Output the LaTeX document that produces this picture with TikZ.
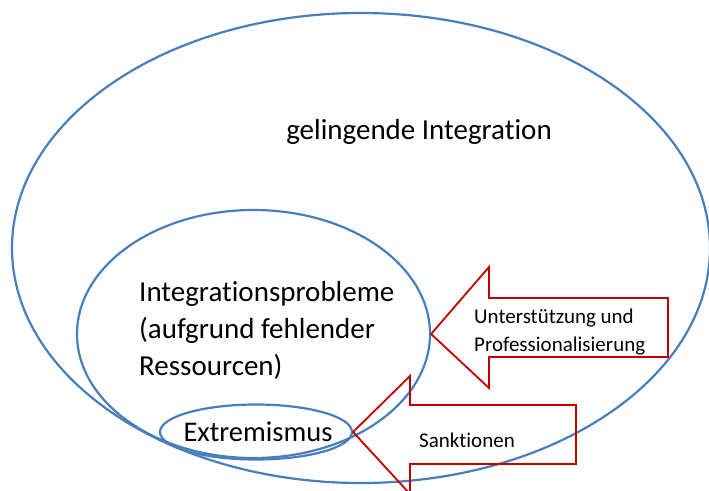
\documentclass[tikz,border=0pt]{standalone}
\usepackage{fontspec}
\setmainfont{Carlito}[Ligatures=NoCommon]
\usetikzlibrary{shapes.geometric}
\definecolor{setblue}{HTML}{4A7EBB}
\definecolor{arrowred}{HTML}{C00000}
\tikzset{
  setline/.style={draw=setblue, line width=2.2pt},
  setshape/.style={setline, ellipse, inner sep=0pt},
  bigarrow/.style={draw=arrowred, line width=1.8pt, line join=miter},
  biglabel/.style={font=\fontsize{29}{37}\selectfont, align=left, inner sep=0pt},
  smalllabel/.style={font=\fontsize{21}{28}\selectfont, align=left, inner sep=0pt}
}
\begin{document}
\begin{tikzpicture}[x=1pt, y=-1pt]
  \useasboundingbox (0,0) rectangle (709,490);
  % nested sets
  \node[setshape, minimum width=698pt, minimum height=470pt] (outer) at (361,248) {};
  \node[setshape, minimum width=353pt, minimum height=248pt] (middle) at (253.5,334) {};
  \node[setshape, minimum width=192pt, minimum height=55pt] (inner) at (256,432) {};
  % labels of the sets
  \node[biglabel] (lgood) at (419,132) {gelingende Integration};
  \node[biglabel, anchor=west] (lprob) at (139,330) {Integrationsprobleme\\(aufgrund fehlender\\Ressourcen)};
  \node[font=\fontsize{28.5}{32}\selectfont, inner sep=0pt] (lext) at (258,432) {Extremismus};
  % block arrow: support
  \draw[bigarrow] (middle.east) -- (489,267) -- (489,298) -- (668,298) -- (668,357)
    -- (489,357) -- (489,388) -- cycle;
  \node[smalllabel, anchor=west] (lsup) at (474,332) {Unterstützung und\\Professionalisierung};
  % block arrow: sanctions
  \draw[bigarrow] (inner.east) -- (410,376) -- (410,405) -- (576,405) -- (576,464)
    -- (410,464) -- (410,494) -- cycle;
  \node[smalllabel, anchor=west] (lsan) at (419,440) {Sanktionen};
\end{tikzpicture}
\end{document}
